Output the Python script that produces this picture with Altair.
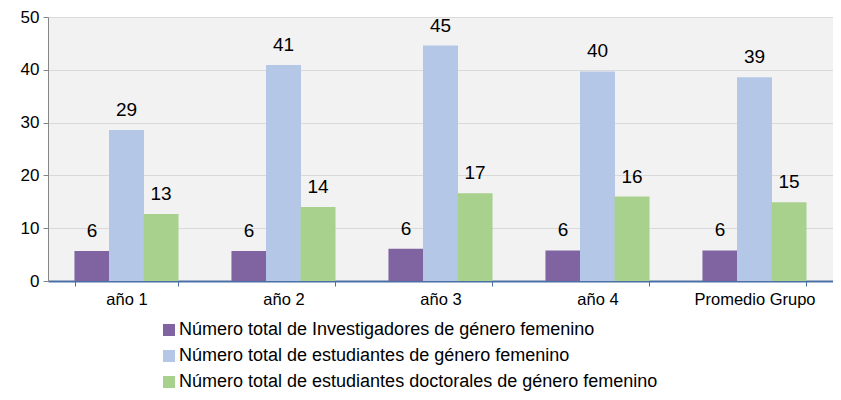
import altair as alt
import pandas as pd

categories = ["año 1", "año 2", "año 3", "año 4", "Promedio Grupo"]
series = [
    "Número total de Investigadores de género femenino",
    "Número total de estudiantes de género femenino",
    "Número total de estudiantes doctorales de género femenino",
]
investigadoras = [5.7, 5.7, 6.1, 5.8, 5.8]
estudiantes = [28.6, 40.9, 44.6, 39.7, 38.6]
doctorales = [12.7, 14.0, 16.6, 16.0, 14.9]
colors = ["#8064A2", "#B4C7E7", "#A9D18E"]

rows = []
for vals, s in zip([investigadoras, estudiantes, doctorales], series):
    for c, v in zip(categories, vals):
        rows.append({"cat": c, "serie": s, "valor": v})
df = pd.DataFrame(rows)

FONT = "Liberation Sans"

x = alt.X("cat:N", sort=categories, title=None,
          scale=alt.Scale(paddingInner=0.34, paddingOuter=0.17),
          axis=alt.Axis(labelAngle=0, labelFontSize=16.5, labelFont=FONT, labelColor="#000000",
                        domainColor="#4A6FA5", domainWidth=2, tickColor="#4A6FA5",
                        tickSize=5, tickBand="extent", labelPadding=5, grid=False))
xo = alt.XOffset("serie:N", sort=series)
y = alt.Y("valor:Q", title=None,
          scale=alt.Scale(domain=[0, 50]),
          axis=alt.Axis(values=[0, 10, 20, 30, 40, 50], labelFontSize=17, labelFont=FONT,
                        labelColor="#000000", domainColor="#868686", tickColor="#868686",
                        tickSize=5, labelPadding=4, gridColor="#D9D9D9", gridWidth=1.2))
color = alt.Color("serie:N", sort=series,
                  scale=alt.Scale(domain=series, range=colors),
                  legend=alt.Legend(title=None, orient="none", legendX=112, legendY=304,
                                    direction="vertical", symbolType="square", symbolSize=144,
                                    symbolStrokeWidth=0, labelFontSize=18, labelFont=FONT,
                                    labelColor="#000000", labelLimit=0, labelOffset=1,
                                    rowPadding=8, padding=0))

bars = alt.Chart(df).mark_bar(size=35).encode(x=x, xOffset=xo, y=y, color=color)
text = alt.Chart(df).mark_text(baseline="bottom", dy=-10, fontSize=19, font=FONT, color="#000000").encode(
    x=x, xOffset=xo, y=y, text=alt.Text("valor:Q", format=".0f"))

chart = (bars + text).properties(
    width=785, height=264,
    autosize=alt.AutoSizeParams(type="none"),
    padding={"left": 40, "top": 9, "right": 0, "bottom": 115},
).configure_view(fill="#F2F2F2", stroke=None)

chart.save("out.html", embed_options={"renderer": "svg", "actions": False})
